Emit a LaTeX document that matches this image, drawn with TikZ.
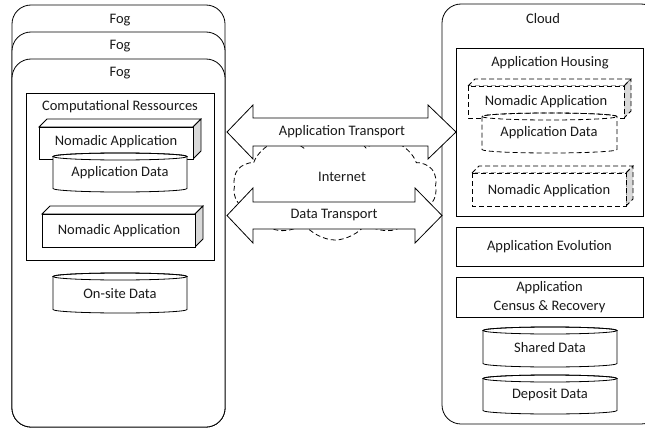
\documentclass[tikz,border=0pt]{standalone}
\usepackage{fontspec}
\setmainfont{Carlito}
\usetikzlibrary{shapes.symbols}
\definecolor{sidegray}{HTML}{D9D9D9}
\definecolor{txt}{HTML}{1A1A1A}
\newcommand\mycuboid[6]{%
  \path[#6,fill=white] (#1,#2) -- ({#1+#5},{#2-#5}) -- ({#3+#5},{#2-#5}) -- (#3,#2) -- cycle;
  \path[#6,fill=sidegray] (#3,#2) -- ({#3+#5},{#2-#5}) -- ({#3+#5},{#4-#5}) -- (#3,#4) -- cycle;
  \path[#6,fill=white] (#1,#2) rectangle (#3,#4);
}
\newcommand\mycyl[5]{%
  \path[#5,fill=white] ({#1-#2},{#3+3.5}) -- ({#1-#2},{#4-3.5})
    arc[start angle=180,end angle=360,x radius=#2pt,y radius=3.5pt]
    -- ({#1+#2},{#3+3.5})
    arc[start angle=0,end angle=180,x radius=#2pt,y radius=3.5pt] -- cycle;
  \path[#5] (#1,{#3+3.5}) ellipse[x radius=#2pt,y radius=3.5pt];
}
\begin{document}
\begin{tikzpicture}[x=1pt,y=-1pt,line width=0.8pt,
  solidline/.style={draw=black},
  dashline/.style={draw=black,dashed,dash pattern=on 5pt off 3pt},
  lbl/.style={inner sep=0pt,text=txt,font=\fontsize{14.5}{17.5}\selectfont},
  box/.style={draw=black,fill=white,inner sep=0pt,text=txt,font=\fontsize{14.5}{17.5}\selectfont,align=center},
  fogbox/.style={draw=black,fill=white,rounded corners=19pt},
  bigarrow/.style={draw=black,fill=white,line join=miter}]
\useasboundingbox (0,0) rectangle (645,428);
\fill[white] (0,0) rectangle (645,428);

% ---------------- Fog side ----------------
\path[fogbox] (12,5) rectangle (225,427);
\node[lbl] (fog1) at (120,20) {Fog};
\path[fogbox] (12,32) rectangle (225,427);
\node[lbl] (fog2) at (120,46) {Fog};
\path[fogbox] (12,59) rectangle (225,427);
\node[lbl] (fog3) at (120,73) {Fog};

\path[draw=black,fill=white] (26,93) rectangle (214,260);
\node[lbl] (comp) at (120,107) {Computational Ressources};

\mycuboid{39}{127}{193}{159}{8}{solidline}
\node[lbl] (nomad1) at (116,142) {Nomadic Application};
\mycyl{120}{67}{153}{192}{solidline}
\node[lbl] (appdata1) at (120,173) {Application Data};

\mycuboid{42}{214}{195}{247}{8}{solidline}
\node[lbl] (nomad2) at (119,231) {Nomadic Application};

\mycyl{120}{67}{273}{313}{solidline}
\node[lbl] (onsite) at (120,294) {On-site Data};

% ---------------- Cloud side ----------------
\path[fogbox] (442,4) rectangle (660,424);
\node[lbl] (cloudlbl) at (543,19) {Cloud};

\path[draw=black,fill=white] (456,48) rectangle (643,216);
\node[lbl] (housing) at (550,63) {Application Housing};

\mycuboid{468}{86}{624}{118}{7}{dashline}
\node[lbl] (nomad3) at (546,102) {Nomadic Application};
\mycyl{549.5}{67.5}{113}{153}{dashline}
\node[lbl] (appdata2) at (549,133) {Application Data};

\mycuboid{472}{173}{626}{206}{7}{dashline}
\node[lbl] (nomad4) at (549,191) {Nomadic Application};

\node[box,minimum width=187pt,minimum height=39pt] (evo) at (549.5,246.5) {Application Evolution};
\node[box,minimum width=187pt,minimum height=40pt] (census) at (549.5,297) {Application\\[1pt]Census \& Recovery};

\mycyl{550}{67}{327}{367}{solidline}
\node[lbl] (shared) at (550,348) {Shared Data};
\mycyl{550}{67}{375}{414}{solidline}
\node[lbl] (deposit) at (550,395) {Deposit Data};

% ---------------- Internet ----------------
\node[cloud,draw=black,dashed,dash pattern=on 5pt off 3pt,cloud puffs=10,cloud puff arc=110,
  cloud ignores aspect,minimum width=204pt,minimum height=108pt,inner sep=0pt] (inet) at (335,186) {};
\node[lbl] (inettxt) at (342,177) {Internet};

% ---------------- Transport arrows ----------------
\path[bigarrow] (227,132) -- (253,105) -- (253,118) -- (428,118) -- (428,105) -- (456,132)
  -- (428,159) -- (428,146) -- (253,146) -- (253,159) -- cycle;
\node[lbl] (apptrans) at (342,132) {Application Transport};

\path[bigarrow] (227,215.5) -- (253,188) -- (253,202) -- (415,202) -- (415,188) -- (442,215.5)
  -- (415,243) -- (415,229) -- (253,229) -- (253,243) -- cycle;
\node[lbl] (datatrans) at (334,215) {Data Transport};
\end{tikzpicture}
\end{document}
